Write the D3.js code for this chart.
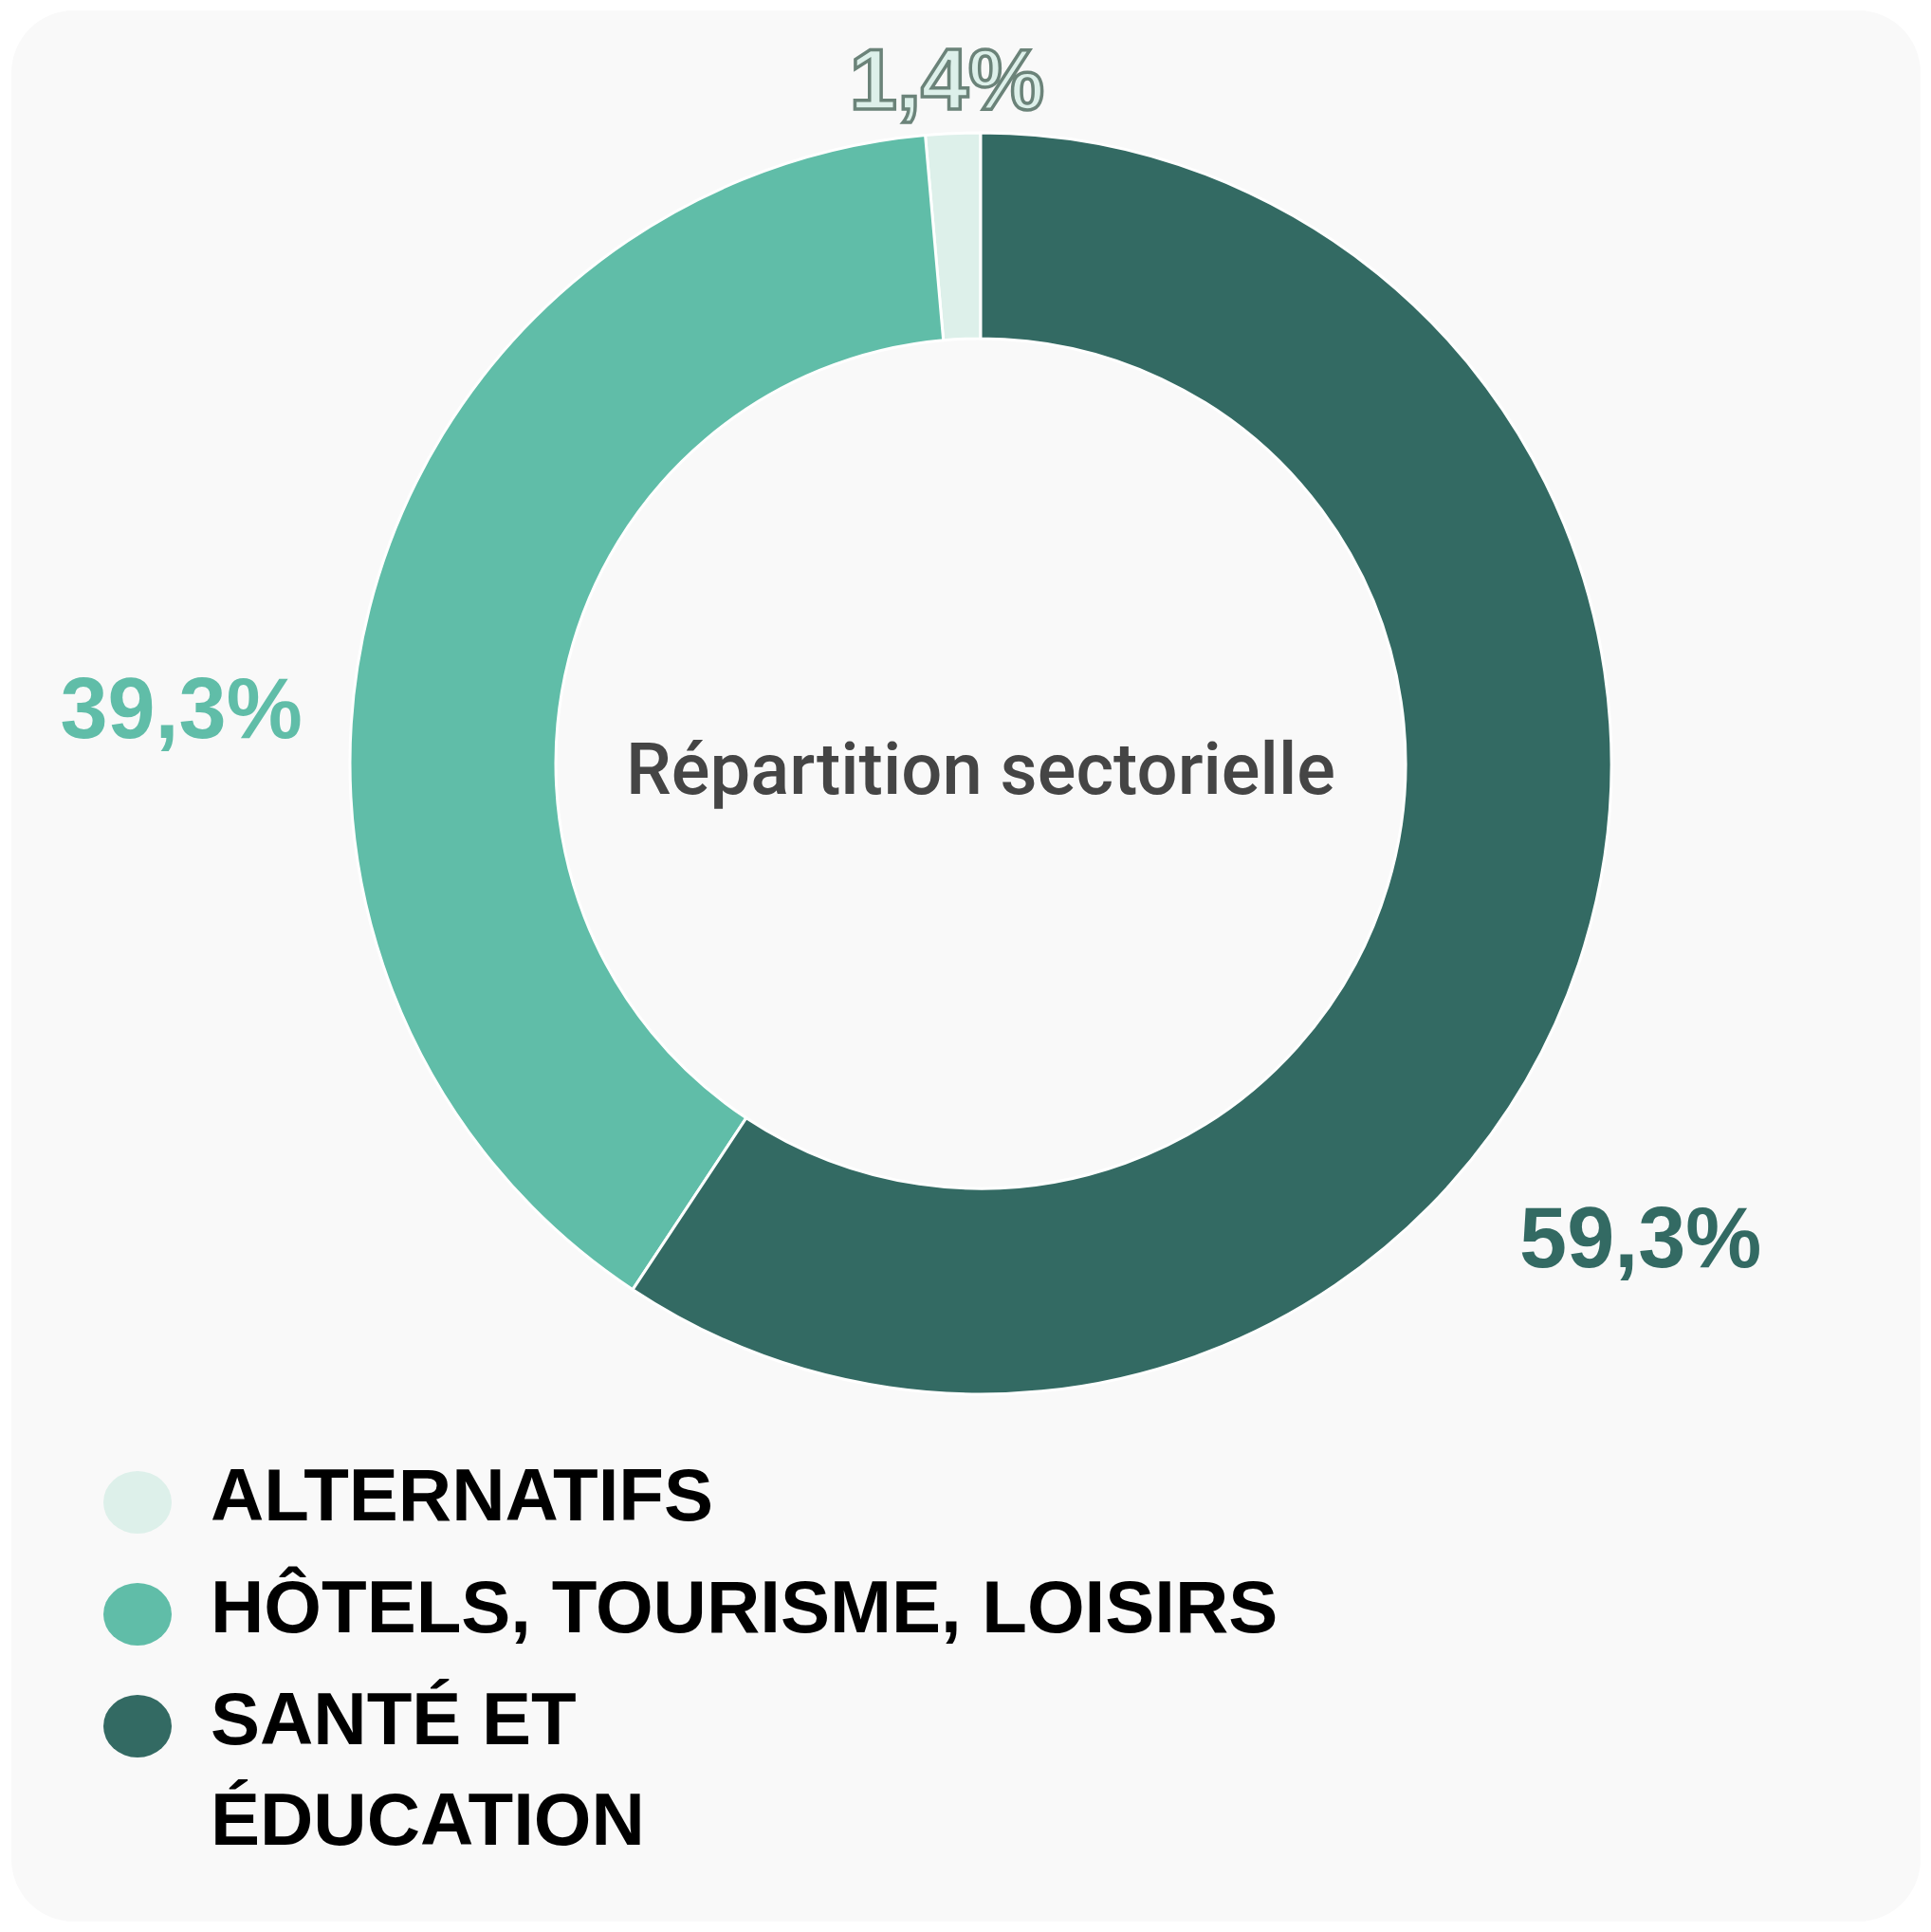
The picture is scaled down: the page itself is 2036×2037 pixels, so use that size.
<!DOCTYPE html>
<html>
<head>
<meta charset="utf-8">
<script src="https://cdn.jsdelivr.net/npm/d3@7"></script>
<style>
  body { margin: 0; background: #ffffff; }
</style>
</head>
<body>
<div id="chart"></div>
<script>
// data, in legend order
const categories = ["ALTERNATIFS", "HÔTELS, TOURISME, LOISIRS", "SANTÉ ET\nÉDUCATION"];
const shares = [1.4, 39.3, 59.3];
const shareLabels = ["1,4%", "39,3%", "59,3%"];
const colors = ["#ddf0ea", "#60bda8", "#336a63"];
const centerTitle = "Répartition sectorielle";

const width = 2036, height = 2037;
const center = { x: 1034, y: 805 };
const outerR = 665, innerR = 448;

// where each percentage sits, relative to its slice middle (degrees, px)
const labelLayout = [
    { shift: -0.3, r: 723 },
    { shift: -10.2, r: 845 },
    { shift: 18.9, r: 856 }
];

const svg = d3.select("#chart")
    .append("svg")
    .attr("width", width)
    .attr("height", height);

// card background
svg.append("rect")
    .attr("x", 12)
    .attr("y", 11)
    .attr("width", 2013)
    .attr("height", 2015)
    .attr("rx", 66)
    .attr("fill", "#f9f9f9");

// slices go counter clockwise from the top, so the last one starts at 12 o'clock
const pie = d3.pie()
    .sort(null)
    .value(d => d)
    .startAngle(2 * Math.PI)
    .endAngle(0);

const arc = d3.arc()
    .innerRadius(innerR)
    .outerRadius(outerR);

const arcs = pie(shares);

const g = svg.append("g")
    .attr("transform", `translate(${center.x},${center.y})`);

g.selectAll("path.slice")
    .data(arcs)
    .enter()
    .append("path")
    .attr("class", "slice")
    .attr("d", arc)
    .attr("fill", (d, i) => colors[i])
    .attr("stroke", "#ffffff")
    .attr("stroke-width", 3);

// centre title
g.append("text")
    .attr("text-anchor", "middle")
    .attr("y", 32)
    .style("font-family", "Roboto, 'Noto Sans', sans-serif")
    .style("font-weight", 500)
    .style("font-size", "76px")
    .style("fill", "#454545")
    .text(centerTitle);

// percentage labels
g.selectAll("text.pct")
    .data(arcs)
    .enter()
    .append("text")
    .attr("class", "pct")
    .attr("text-anchor", "middle")
    .attr("dy", "0.36em")
    .attr("transform", (d, i) => {
        let mid = (d.startAngle + d.endAngle) / 2 + labelLayout[i].shift * Math.PI / 180;
        let p = d3.pointRadial(mid, labelLayout[i].r);
        return `translate(${p[0]},${p[1]})`;
    })
    .style("font-family", "'Liberation Sans', Arial, sans-serif")
    .style("font-weight", "bold")
    .style("font-size", "90px")
    .style("fill", (d, i) => colors[i])
    .style("stroke", (d, i) => i === 0 ? "#6b8379" : "none")
    .style("stroke-width", 3.5)
    .text((d, i) => shareLabels[i]);

// legend
const legendTop = 1603, itemStep = 118, lineStep = 106;

const legend = svg.selectAll("g.legend")
    .data(categories)
    .enter()
    .append("g")
    .attr("class", "legend")
    .attr("transform", (d, i) => `translate(0,${legendTop + i * itemStep})`);

legend.append("ellipse")
    .attr("cx", 145)
    .attr("cy", -19)
    .attr("rx", 36)
    .attr("ry", 33)
    .attr("fill", (d, i) => colors[i]);

legend.append("text")
    .attr("x", 222)
    .style("font-family", "'Liberation Sans', Arial, sans-serif")
    .style("font-weight", "bold")
    .style("font-size", "78px")
    .style("fill", "#000000")
    .selectAll("tspan")
    .data(d => d.split("\n"))
    .enter()
    .append("tspan")
    .attr("x", 222)
    .attr("y", (d, j) => j * lineStep)
    .text(d => d);
</script>
</body>
</html>
